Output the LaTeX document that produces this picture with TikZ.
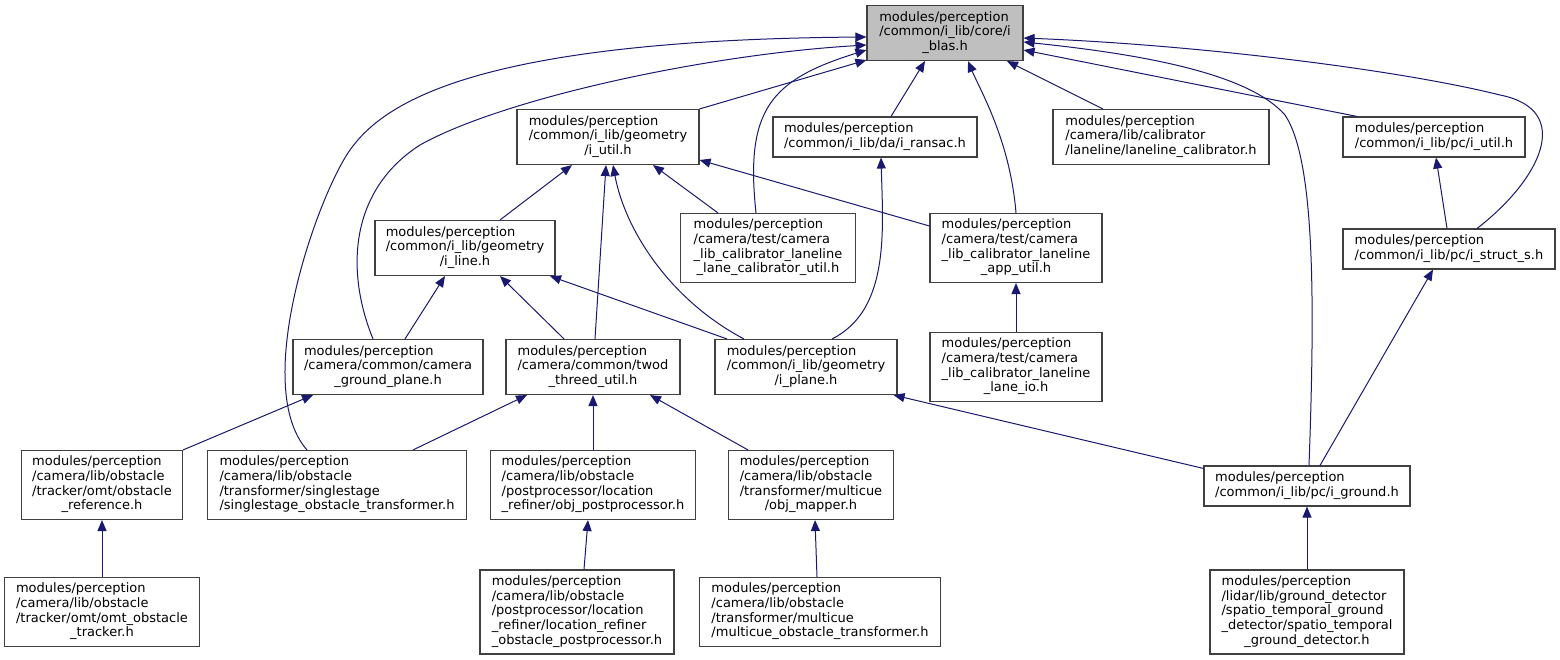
\documentclass[tikz,border=0pt]{standalone}
\usepackage{fontspec}
\setmainfont{DejaVu Sans}
\definecolor{edgeblue}{HTML}{191970}
\definecolor{rootgray}{HTML}{BFBFBF}
\definecolor{boxline}{HTML}{404040}
\usetikzlibrary{arrows.meta, positioning}

\newcommand{\hlines}[2]{\begin{tabular}{@{}l@{}}#1\\\multicolumn{1}{@{}c@{}}{#2}\end{tabular}}

\tikzset{
	hfile/.style={draw=boxline, line width=1.1pt, fill=white, inner sep=0pt, font=\fontsize{13}{14.7}\selectfont},
	hroot/.style={hfile, fill=rootgray},
	incl/.style={draw=edgeblue, line width=1pt, -{Triangle[length=11pt,width=9pt]}},
}

\begin{document}
\begin{tikzpicture}[x=1pt, y=-1pt]
	\useasboundingbox (0,0) rectangle (1560,660);
	
	% header files
	\node[hroot, minimum width=156pt, minimum height=55pt] (blas) at (945,33) {\hlines{modules/perception\\/common/i\_lib/core/i}{\_blas.h}};
	
	\node[hfile, minimum width=182pt, minimum height=55pt] (iutil) at (608,137) {\hlines{modules/perception\\/common/i\_lib/geometry}{/i\_util.h}};
	\node[hfile, minimum width=204pt, minimum height=40pt] (ransac) at (875,137) {\hlines{modules/perception}{/common/i\_lib/da/i\_ransac.h}};
	\node[hfile, minimum width=216pt, minimum height=55pt] (lanecal) at (1161,137) {\hlines{modules/perception\\/camera/lib/calibrator}{/laneline/laneline\_calibrator.h}};
	\node[hfile, minimum width=182pt, minimum height=40pt] (pcutil) at (1434,137) {\hlines{modules/perception}{/common/i\_lib/pc/i\_util.h}};
	
	\node[hfile, minimum width=180pt, minimum height=55pt] (iline) at (465,248) {\hlines{modules/perception\\/common/i\_lib/geometry}{/i\_line.h}};
	\node[hfile, minimum width=175pt, minimum height=69pt] (lcutil) at (768,248) {\hlines{modules/perception\\/camera/test/camera\\\_lib\_calibrator\_laneline}{\_lane\_calibrator\_util.h}};
	\node[hfile, minimum width=172pt, minimum height=69pt] (apputil) at (1016,248) {\hlines{modules/perception\\/camera/test/camera\\\_lib\_calibrator\_laneline}{\_app\_util.h}};
	\node[hfile, minimum width=212pt, minimum height=40pt] (structs) at (1449,249) {\hlines{modules/perception}{/common/i\_lib/pc/i\_struct\_s.h}};
	
	\node[hfile, minimum width=190pt, minimum height=55pt] (gplane) at (388,367) {\hlines{modules/perception\\/camera/common/camera}{\_ground\_plane.h}};
	\node[hfile, minimum width=174pt, minimum height=55pt] (twod) at (593,367) {\hlines{modules/perception\\/camera/common/twod}{\_threed\_util.h}};
	\node[hfile, minimum width=182pt, minimum height=55pt] (iplane) at (806,367) {\hlines{modules/perception\\/common/i\_lib/geometry}{/i\_plane.h}};
	\node[hfile, minimum width=172pt, minimum height=69pt] (laneio) at (1016,367) {\hlines{modules/perception\\/camera/test/camera\\\_lib\_calibrator\_laneline}{\_lane\_io.h}};
	
	\node[hfile, minimum width=161pt, minimum height=69pt] (obsref) at (102,485) {\hlines{modules/perception\\/camera/lib/obstacle\\/tracker/omt/obstacle}{\_reference.h}};
	\node[hfile, minimum width=259pt, minimum height=69pt] (single) at (337,485) {\hlines{modules/perception\\/camera/lib/obstacle\\/transformer/singlestage}{/singlestage\_obstacle\_transformer.h}};
	\node[hfile, minimum width=205pt, minimum height=69pt] (objpost) at (593,485) {\hlines{modules/perception\\/camera/lib/obstacle\\/postprocessor/location}{\_refiner/obj\_postprocessor.h}};
	\node[hfile, minimum width=165pt, minimum height=69pt] (objmap) at (811,485) {\hlines{modules/perception\\/camera/lib/obstacle\\/transformer/multicue}{/obj\_mapper.h}};
	\node[hfile, minimum width=206pt, minimum height=40pt] (ground) at (1307,486) {\hlines{modules/perception}{/common/i\_lib/pc/i\_ground.h}};
	
	\node[hfile, minimum width=195pt, minimum height=69pt] (omt) at (102,612) {\hlines{modules/perception\\/camera/lib/obstacle\\/tracker/omt/omt\_obstacle}{\_tracker.h}};
	\node[hfile, minimum width=194pt, minimum height=84pt] (locref) at (577,612) {\hlines{modules/perception\\/camera/lib/obstacle\\/postprocessor/location\\\_refiner/location\_refiner}{\_obstacle\_postprocessor.h}};
	\node[hfile, minimum width=241pt, minimum height=69pt] (multicue) at (820,612) {\hlines{modules/perception\\/camera/lib/obstacle\\/transformer/multicue}{/multicue\_obstacle\_transformer.h}};
	\node[hfile, minimum width=194pt, minimum height=84pt] (spatio) at (1307,612) {\hlines{modules/perception\\/lidar/lib/ground\_detector\\/spatio\_temporal\_ground\\\_detector/spatio\_temporal}{\_ground\_detector.h}};
	
	% includes of i_blas.h
	\draw[incl] (iutil.north east) -- ([yshift=1pt]blas.south west);
	\draw[incl] ([xshift=16pt]ransac.north) -- ([xshift=-20pt]blas.south);
	\draw[incl] ([xshift=-58pt]lanecal.north) -- ([xshift=62pt]blas.south);
	\draw[incl] ([xshift=-77pt]pcutil.north) -- ([yshift=-17pt]blas.east);
	\draw[incl] ([xshift=-12pt]lcutil.north) .. controls (745,110) and (770,80) .. ([yshift=-17pt]blas.west);
	\draw[incl] (apputil.north) .. controls (1010,140) and (980,90) .. ([xshift=23pt]blas.south);
	\draw[incl] ([xshift=28pt]structs.north) .. controls (1540,180) and (1575,110) .. (1500,95) .. controls (1400,70) and (1200,45) .. ([yshift=-5pt]blas.east);
	\draw[incl] ([xshift=2pt]ground.north) .. controls (1315,300) and (1315,160) .. (1285,115) .. controls (1250,75) and (1150,55) .. ([yshift=-9pt]blas.east);
	\draw[incl] ([xshift=-15pt]gplane.north) .. controls (345,270) and (350,190) .. (420,145) .. controls (500,100) and (700,55) .. ([yshift=-12pt]blas.west);
	\draw[incl] ([xshift=-30pt]single.north) .. controls (250,385) and (318,195) .. (350,150) .. controls (382,105) and (470,40) .. ([yshift=-4pt]blas.west);
	
	% the rest
	\draw[incl] ([xshift=35pt]iline.north) -- ([xshift=-36pt]iutil.south);
	\draw[incl] ([xshift=2pt]twod.north) -- ([xshift=-2pt]iutil.south);
	\draw[incl] ([xshift=-62pt]iplane.north) .. controls (670,300) and (625,230) .. ([xshift=5pt]iutil.south);
	\draw[incl] ([xshift=-50pt]lcutil.north) -- ([xshift=45pt]iutil.south);
	\draw[incl] ([yshift=22pt]apputil.west) -- ([yshift=-23pt]iutil.east);
	\draw[incl] ([xshift=26pt]iplane.north) .. controls (890,310) and (883,230) .. ([xshift=6pt]ransac.south);
	\draw[incl] ([xshift=-2pt]structs.north) -- ([xshift=2pt]pcutil.south);
	\draw[incl] (laneio) -- (apputil);
	\draw[incl] ([xshift=17pt]gplane.north) -- ([xshift=-20pt]iline.south);
	\draw[incl] ([xshift=-29pt]twod.north) -- ([xshift=35pt]iline.south);
	\draw[incl] ([xshift=-79pt]iplane.north) -- ([xshift=85pt]iline.south);
	\draw[incl] ([yshift=-3pt]ground.north west) -- ([xshift=-4pt]iplane.south east);
	\draw[incl] ([xshift=13pt]ground.north) -- ([xshift=-16pt]structs.south);
	\draw[incl] (obsref.north east) -- ([xshift=-75pt]gplane.south);
	\draw[incl] ([xshift=76pt]single.north) -- ([xshift=-66pt]twod.south);
	\draw[incl] (objpost) -- (twod);
	\draw[incl] ([xshift=-63pt]objmap.north) -- ([xshift=57pt]twod.south);
	\draw[incl] (omt) -- (obsref);
	\draw[incl] ([xshift=7pt]locref.north) -- ([xshift=-5pt]objpost.south);
	\draw[incl] ([xshift=-3pt]multicue.north) -- ([xshift=4pt]objmap.south);
	\draw[incl] (spatio) -- (ground);
	
\end{tikzpicture}
\end{document}
